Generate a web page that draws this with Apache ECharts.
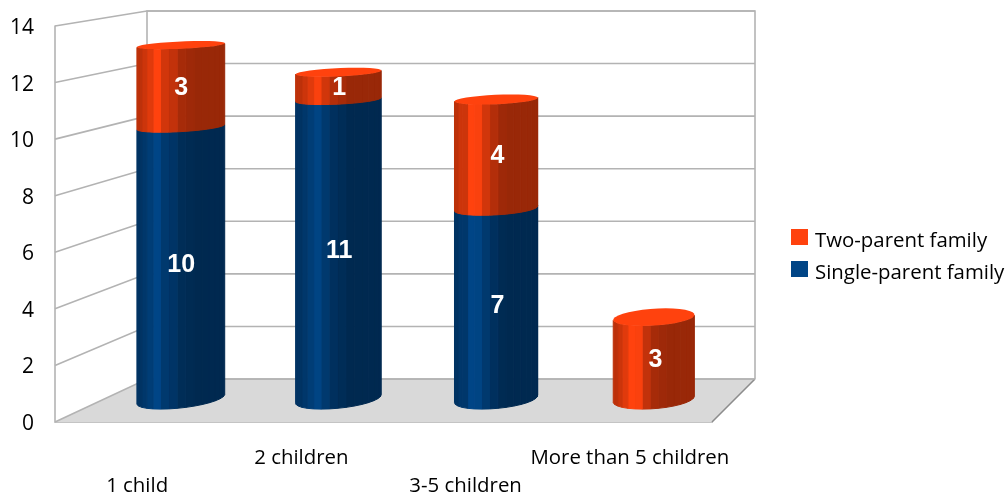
<!DOCTYPE html>
<html><head><meta charset="utf-8">
<style>html,body{margin:0;padding:0;background:#fff}#c{width:1006px;height:494px}</style>
<script src="https://cdn.jsdelivr.net/npm/echarts@6/dist/echarts.min.js"></script>
</head><body><div id="c"></div>
<script>
const categories = ['1 child', '2 children', '3-5 children', 'More than 5 children'];
const singleParent = [10, 11, 7, 0];
const twoParent = [3, 1, 4, 3];
const yTicks = [0, 2, 4, 6, 8, 10, 12, 14];

// Perspective of the box: offsets of the back wall from the front plane, per unit depth
const BACK_LEFT = 92, BACK_RIGHT = 43, BACK_DROP0 = 43, BACK_DROP14 = 15;
const DEPTH_C = 0.54, DEPTH_R = 0.24, BAR_FRAC = 0.247;

function projector(api) {
  const p0 = api.coord([0, 0]), size = api.size([1, 1]);
  const left = p0[0] - size[0] / 2, w = size[0] * categories.length;
  return function (xf, v, d) {
    const yf = api.coord([0, v])[1];
    const u = (xf - left) / w;
    const drop = BACK_DROP0 + (BACK_DROP14 - BACK_DROP0) * v / 14;
    return [xf + d * (BACK_LEFT + (BACK_RIGHT - BACK_LEFT) * u), yf - d * drop];
  };
}
function edges(api) {
  const p0 = api.coord([0, 0]), size = api.size([1, 1]);
  const left = p0[0] - size[0] / 2;
  return [left, left + size[0] * categories.length];
}
const gridLine = { stroke: '#b3b3b3', lineWidth: 1.6, fill: null };

function renderFloor(params, api) {
  const P = projector(api), [l, r] = edges(api);
  return { type: 'group', children: [
    { type: 'polygon', shape: { points: [P(l,0,0), P(r,0,0), P(r,0,1), P(l,0,1)] }, style: { fill: '#d9d9d9' } },
    { type: 'polyline', shape: { points: [P(l,0,1), P(r,0,1)] }, style: gridLine },
    { type: 'polyline', shape: { points: [P(r,0,0), P(r,0,1)] }, style: { stroke: '#8c8c8c', lineWidth: 1.6, fill: null } },
    { type: 'polyline', shape: { points: [P(l,0,1), P(l,14,1), P(r,14,1), P(r,0,1)] }, style: gridLine }
  ]};
}
function renderTick(params, api) {
  const P = projector(api), [l, r] = edges(api), v = api.value(0);
  return { type: 'polyline', shape: { points: [P(l,v,0), P(l,v,1), P(r,v,1)] }, style: gridLine };
}
// shade of a facet from its horizontal position across the cylinder (0 left .. 1 right)
function shadeOf(f) {
  const s = [0.74,0.8,0.88,1,0.98,0.82,0.76,0.7,0.65,0.62,0.6,0.6,0.6,0.6,0.6,0.6];
  return s[Math.min(s.length - 1, Math.floor(f * s.length))];
}
function tint(rgb, k) {
  return 'rgb(' + rgb.map(c => Math.round(c * k)).join(',') + ')';
}
function renderCylinder(rgb, withCap) {
  return function (params, api) {
    const i = api.value(0), lo = api.value(1), hi = api.value(2);
    if (hi <= lo) return { type: 'group', children: [] };
    const P = projector(api);
    const cx = api.coord([i, 0])[0] - 2.5, a = api.size([1, 0])[0] * BAR_FRAC;
    const N = 32, ring = [];
    for (let k = 0; k <= N; k++) {
      const t = (k / N) * 2 * Math.PI;
      ring.push([cx + a * Math.cos(t), DEPTH_C - DEPTH_R * Math.sin(t)]);
    }
    const children = [];
    const pts = ring.map(q => P(q[0], hi, q[1]));
    const minX = Math.min(...pts.map(p => p[0])), maxX = Math.max(...pts.map(p => p[0]));
    for (let k = 0; k < N; k++) {
      const A = P(ring[k][0], hi, ring[k][1]), B = P(ring[k+1][0], hi, ring[k+1][1]);
      if (B[0] >= A[0]) continue; // faces away: walking the front of the circle runs right to left
      const C = P(ring[k+1][0], lo, ring[k+1][1]), D = P(ring[k][0], lo, ring[k][1]);
      const col = tint(rgb, shadeOf((((A[0]+B[0])/2) - minX) / (maxX - minX)));
      children.push({ type: 'polygon', shape: { points: [A, B, C, D] }, style: { fill: col, stroke: col, lineWidth: 1 } });
    }
    if (withCap) children.push({ type: 'polygon', shape: { points: pts }, style: { fill: tint(rgb, 1) } });
    const tip = P(cx, (lo + hi) / 2, 0.5);
    children.push({ type: 'text', z2: 10, style: {
      x: tip[0] + 3.5, y: tip[1] + 1, text: String(hi - lo), fill: '#fff', align: 'center', verticalAlign: 'middle',
      font: 'bold 25px "Liberation Sans"' } });
    return { type: 'group', children };
  };
}
const FONT = '"Open Sans"';
const stackRows = categories.map((c, i) => [i, 0, singleParent[i]]);
const topRows = categories.map((c, i) => [i, singleParent[i], singleParent[i] + twoParent[i]]);
const chart = echarts.init(document.getElementById('c'), null, { renderer: 'canvas' });
chart.setOption({
  animation: false,
  backgroundColor: '#fff',
  grid: { left: 55, right: 294, top: 26, bottom: 72, outerBoundsMode: 'none' },
  xAxis: { type: 'category', data: categories, boundaryGap: true,
    axisLine: { show: true, lineStyle: { color: '#c4c4c4', width: 2 } }, axisTick: { show: false },
    axisLabel: { interval: 0, margin: 22, fontFamily: FONT, fontSize: 20.4, color: '#000', lineHeight: 28,
      formatter: (v, i) => (i % 2 === 0 ? '\n' + v : v) } },
  yAxis: { type: 'value', min: 0, max: 14, interval: 2,
    axisLine: { show: true, lineStyle: { color: '#b3b3b3', width: 1.6 } }, axisTick: { show: false },
    splitLine: { show: false },
    axisLabel: { margin: 21, color: '#000', formatter: '{t|{value}}',
      rich: { t: { fontFamily: FONT, fontSize: 21, color: '#000', padding: [4, 0, 0, 0] } } } },
  legend: { left: 791, top: 223, padding: 0, orient: 'vertical', itemWidth: 17, itemHeight: 16, itemGap: 4,
    icon: 'rect', data: ['Two-parent family', 'Single-parent family'],
    formatter: '{t|{name}}',
    textStyle: { rich: { t: { fontFamily: FONT, fontSize: 20.4, color: '#000', lineHeight: 16, padding: [8, 0, 0, 2] } } },
    selectedMode: false },
  series: [
    { type: 'custom', name: 'floor', silent: true, z: 1, data: [[0]], renderItem: renderFloor },
    { type: 'custom', name: 'ticks', silent: true, z: 2, data: yTicks.map(v => [v]), renderItem: renderTick,
      encode: { y: 0 } },
    { type: 'custom', name: 'Single-parent family', z: 3, itemStyle: { color: '#004586' },
      data: stackRows, encode: { x: 0, y: 2 }, renderItem: renderCylinder([0, 69, 134], false) },
    { type: 'custom', name: 'Two-parent family', z: 3, itemStyle: { color: '#ff420e' },
      data: topRows, encode: { x: 0, y: 2 }, renderItem: renderCylinder([255, 66, 14], true) }
  ]
});
</script></body></html>
